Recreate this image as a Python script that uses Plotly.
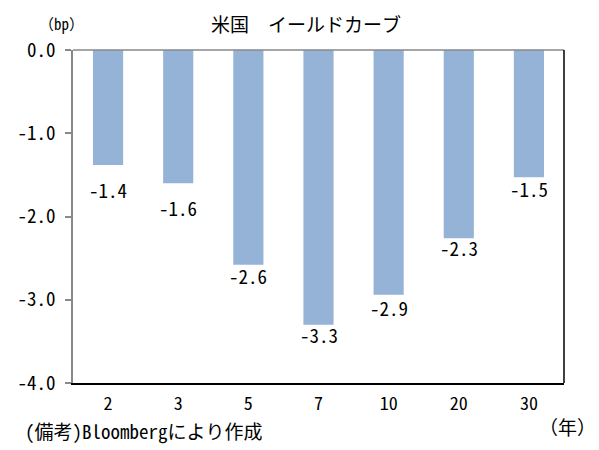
import plotly.graph_objects as go

categories = ["2", "3", "5", "7", "10", "20", "30"]
values = [-1.38, -1.60, -2.58, -3.30, -2.94, -2.26, -1.53]
y_ticks = [0, -1, -2, -3, -4]
y_tick_labels = ["0.0", "-1.0", "-2.0", "-3.0", "-4.0"]

title_text = "米国　イールドカーブ"
y_unit = "（bp）"
x_unit = "（年）"
note = "(備考)Bloombergにより作成"

# extra downward pixel offset of each data label (styling)
label_gap_px = [9, 9, -5, -6, -3, -6, -4]

JP = "Noto Sans Mono CJK JP, Noto Sans CJK JP, sans-serif"

fig = go.Figure()
fig.add_trace(go.Bar(
    x=categories, y=values,
    marker=dict(color="#95B3D7", line=dict(width=0)),
    width=0.43,
    cliponaxis=False,
))

annotations = [
    dict(text=title_text, xref="paper", yref="paper", x=0.475, y=1, yshift=27,
         xanchor="center", yanchor="middle", showarrow=False, font=dict(size=19)),
    dict(text=y_unit, xref="paper", yref="paper", x=0, xshift=13, y=1, yshift=27,
         xanchor="right", yanchor="middle", showarrow=False, font=dict(size=15)),
    dict(text=x_unit, xref="paper", yref="paper", x=1, xshift=34, y=0, yshift=-43,
         xanchor="right", yanchor="middle", showarrow=False, font=dict(size=19)),
    dict(text=note, xref="paper", yref="paper", x=0, xshift=-50, y=0, yshift=-47,
         xanchor="left", yanchor="middle", showarrow=False, font=dict(size=19)),
]
for i, (v, g) in enumerate(zip(values, label_gap_px)):
    annotations.append(dict(
        text=f"{v:.1f}", x=i, y=v, xref="x", yref="y", yanchor="top",
        xanchor="center", yshift=-g, showarrow=False,
        font=dict(size=19, family=JP, color="#000000"),
    ))

fig.update_layout(
    width=599, height=450,
    margin=dict(l=73, r=35, t=50, b=67),
    paper_bgcolor="white", plot_bgcolor="white",
    showlegend=False,
    font=dict(family=JP, color="#000000"),
    xaxis=dict(
        type="category", range=[-0.5, len(categories) - 0.5],
        showline=True, linecolor="#000000", linewidth=1.5,
        ticks="", showgrid=False, tickfont=dict(size=18, family=JP),
        ticklabelstandoff=4,
    ),
    yaxis=dict(
        range=[-4, 0], tickvals=y_ticks, ticktext=y_tick_labels,
        showline=True, linecolor="#898989", linewidth=1.5,
        ticks="outside", ticklen=6, tickcolor="#898989", tickwidth=1.5,
        showgrid=False, zeroline=False, tickfont=dict(size=19, family=JP),
        ticklabelstandoff=6,
    ),
    shapes=[
        dict(type="line", xref="paper", yref="paper", x0=0, x1=1, y0=1, y1=1,
             line=dict(color="#898989", width=1.5)),
        dict(type="line", xref="paper", yref="paper", x0=1, x1=1, y0=0, y1=1,
             line=dict(color="#000000", width=1.5)),
    ],
    annotations=annotations,
)

fig.write_html("out.html")
